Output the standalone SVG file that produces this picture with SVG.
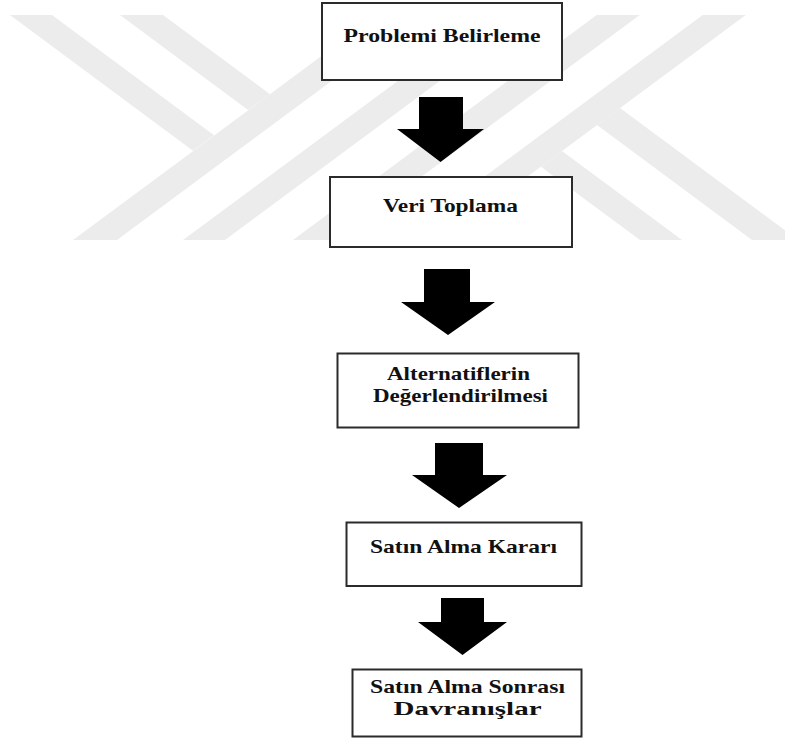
<svg xmlns="http://www.w3.org/2000/svg" width="785" height="740" viewBox="0 0 785 740">
  <style>
    .wm { fill: #ececec; }
    .box { fill: #ffffff; stroke: #2b2b2b; stroke-width: 2; }
    .lbl { font-family: "Liberation Serif", "Times New Roman", serif; font-weight: bold; font-size: 19px; fill: #111111; text-anchor: middle; }
    .arrow { fill: #000000; }
  </style>
  <rect x="0" y="0" width="785" height="740" fill="#ffffff"/>
  <g id="watermark">
    <polygon class="wm" points="10,15 52,15 214,135.3 193,150.8"/>
    <polygon class="wm" points="120,15 163,15 270,94.2 248,110.1"/>
    <polygon class="wm" points="73,240 117,240 420.75,15 376.75,15"/>
    <polygon class="wm" points="183,240 225,240 528.75,15 486.75,15"/>
    <polygon class="wm" points="293,240 336,240 639.75,15 596.75,15"/>
    <polygon class="wm" points="399,240 442,240 745.75,15 702.75,15"/>
    <polygon class="wm" points="620,108 798,240 752,240 597,125"/>
    <polygon class="wm" points="562,151 682,240 640,240 541,166.7"/>
  </g>
  <g id="connectors">
    <polygon class="arrow" points="419,97 463,97 463,129 484,129 440.5,162 397,129 419,129"/>
    <polygon class="arrow" points="424,269 470,269 470,302 495,302 448,335 401,302 424,302"/>
    <polygon class="arrow" points="435,443 483,443 483,475 507,475 459,508 412,475 435,475"/>
    <polygon class="arrow" points="441,598 484,598 484,622 507,622 462.5,655 418,622 441,622"/>
  </g>
  <g id="problemi-belirleme">
    <rect class="box" x="322" y="3" width="240" height="77"/>
    <text class="lbl" x="442" y="42" textLength="197" lengthAdjust="spacingAndGlyphs">Problemi Belirleme</text>
  </g>
  <g id="veri-toplama">
    <rect class="box" x="330" y="177" width="242" height="70"/>
    <text class="lbl" x="450.5" y="212" textLength="135" lengthAdjust="spacingAndGlyphs">Veri Toplama</text>
  </g>
  <g id="alternatiflerin">
    <rect class="box" x="337.5" y="353.5" width="241" height="74"/>
    <text class="lbl" x="458.5" y="379.5" textLength="143" lengthAdjust="spacingAndGlyphs">Alternatiflerin</text>
    <text class="lbl" x="460.5" y="401.5" textLength="175" lengthAdjust="spacingAndGlyphs">Değerlendirilmesi</text>
  </g>
  <g id="satin-alma-karari">
    <rect class="box" x="346.5" y="522.5" width="235" height="63.5"/>
    <text class="lbl" x="463.5" y="553" textLength="187" lengthAdjust="spacingAndGlyphs">Satın Alma Kararı</text>
  </g>
  <g id="satin-alma-sonrasi">
    <rect class="box" x="352.5" y="669.5" width="229" height="67"/>
    <text class="lbl" x="467.5" y="693" textLength="195" lengthAdjust="spacingAndGlyphs">Satın Alma Sonrası</text>
    <text class="lbl" x="467.5" y="714.5" textLength="148" lengthAdjust="spacingAndGlyphs">Davranışlar</text>
  </g>
</svg>
